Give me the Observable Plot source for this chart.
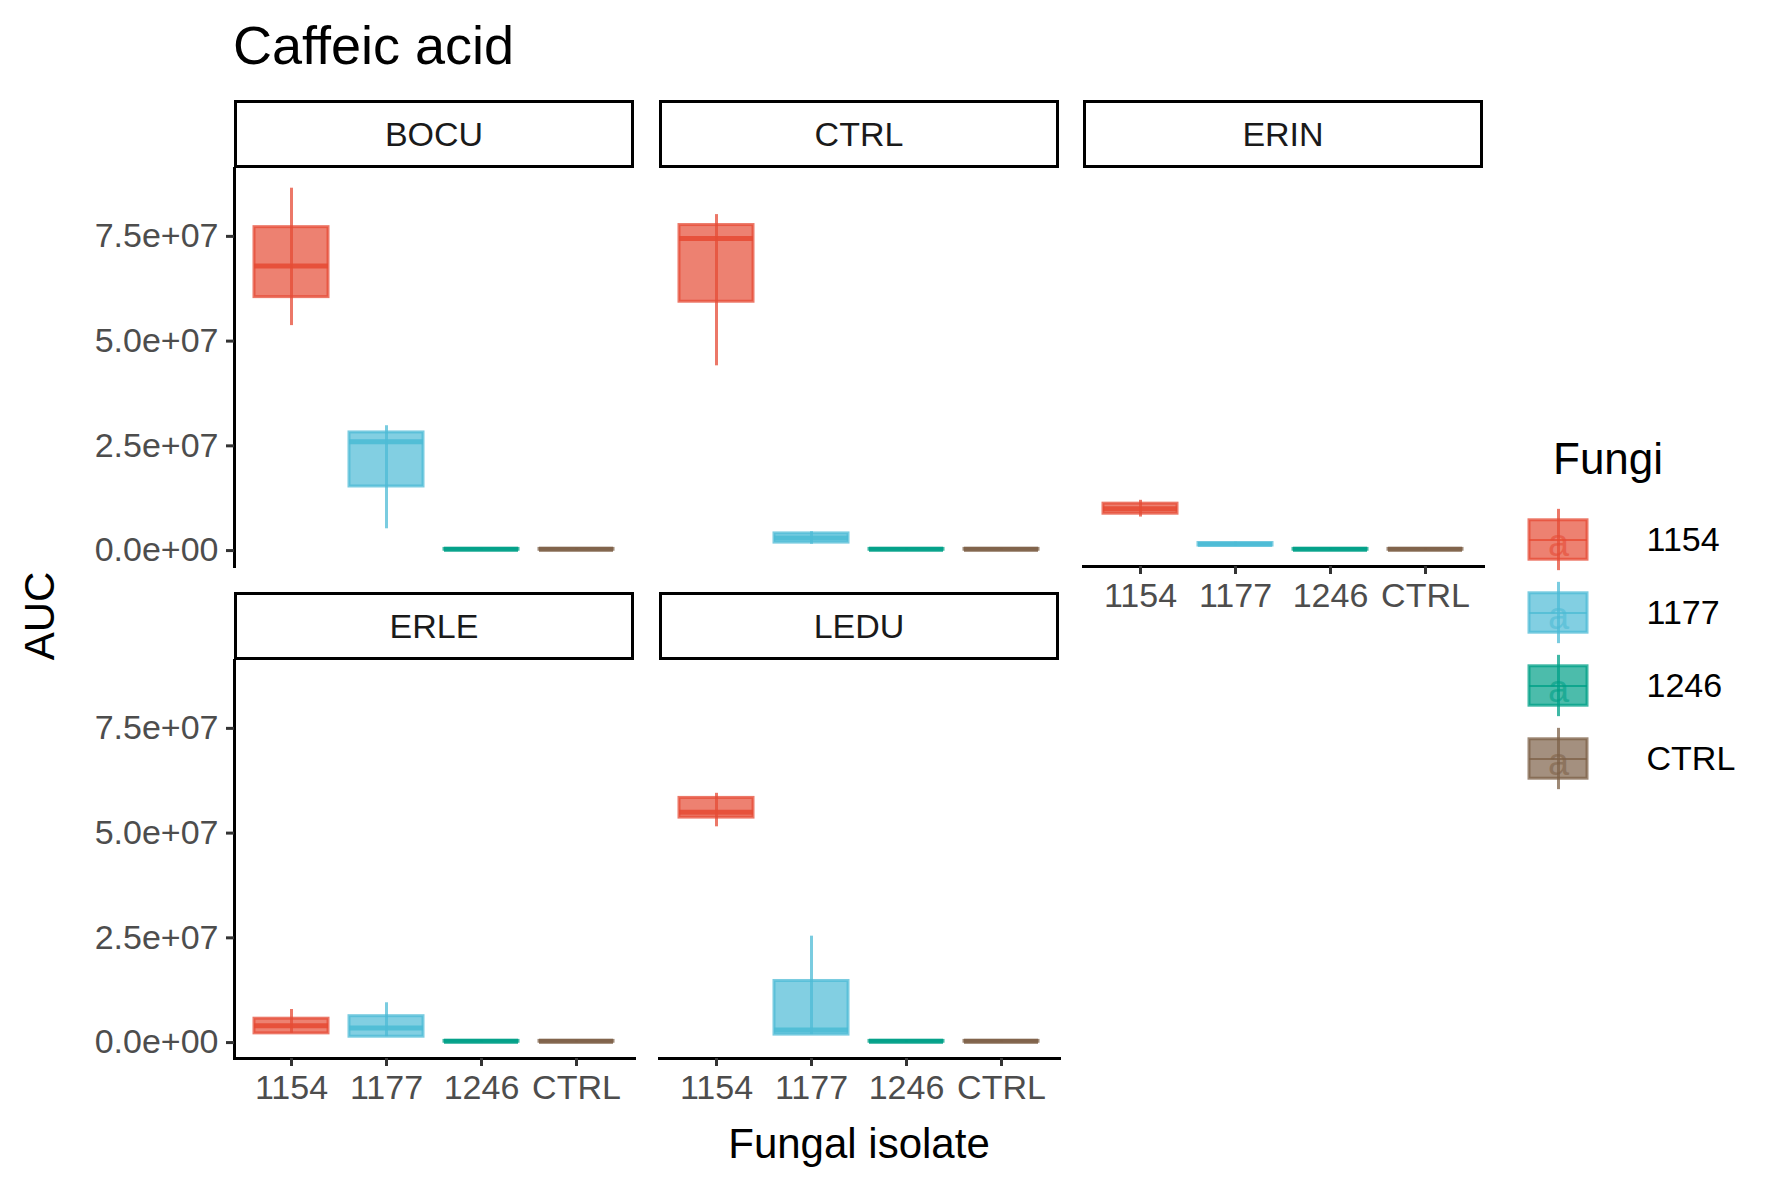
<!DOCTYPE html>
<html><head><meta charset="utf-8">
<script src="https://cdn.jsdelivr.net/npm/d3@7"></script>
<script src="https://cdn.jsdelivr.net/npm/@observablehq/plot@0.6"></script>
<style>
body{margin:0;background:#fff;font-family:"Liberation Sans",Arial,sans-serif;}
#root{position:relative;width:1771px;height:1181px;}
.abs{position:absolute;}
.strip{position:absolute;border:3px solid #000;box-sizing:border-box;display:flex;align-items:center;justify-content:center;font-size:34px;color:#1a1a1a;}
</style></head><body><div id="root"></div>
<script>
// data
const isolates = ["1154", "1177", "1246", "CTRL"];
const panels = ["BOCU", "CTRL", "ERIN", "ERLE", "LEDU"];
const colors = ["#E64B35", "#4DBBD5", "#00A087", "#7E6148"];
// per panel, per isolate: [lo, q1, median, q3, hi]
const stats = {
  BOCU: [[5.37e7, 6.05e7, 6.79e7, 7.72e7, 8.65e7], [0.52e7, 1.53e7, 2.6e7, 2.82e7, 2.98e7], [1e5, 2e5, 3e5, 4e5, 5e5], [1e5, 2e5, 3e5, 4e5, 5e5]],
  CTRL: [[4.41e7, 5.94e7, 7.45e7, 7.77e7, 8.02e7], [0.15e7, 0.19e7, 0.3e7, 0.41e7, 0.45e7], [1e5, 2e5, 3e5, 4e5, 5e5], [1e5, 2e5, 3e5, 4e5, 5e5]],
  ERIN: [[0.8e7, 0.88e7, 1.0e7, 1.12e7, 1.2e7], [0.1e7, 0.12e7, 0.15e7, 0.18e7, 0.2e7], [1e5, 2e5, 3e5, 4e5, 5e5], [1e5, 2e5, 3e5, 4e5, 5e5]],
  ERLE: [[0.22e7, 0.22e7, 0.4e7, 0.57e7, 0.79e7], [0.14e7, 0.14e7, 0.35e7, 0.63e7, 0.95e7], [1e5, 2e5, 3e5, 4e5, 5e5], [1e5, 2e5, 3e5, 4e5, 5e5]],
  LEDU: [[5.15e7, 5.37e7, 5.5e7, 5.84e7, 5.95e7], [0.19e7, 0.19e7, 0.3e7, 1.47e7, 2.54e7], [1e5, 2e5, 3e5, 4e5, 5e5], [1e5, 2e5, 3e5, 4e5, 5e5]]
};
const yTicks = [0, 2.5e7, 5e7, 7.5e7];

const fmt = d => d3.format(".1e")(d).replace(/e([+-])(\d)$/, "e$10$2");
const root = document.getElementById("root");
const font = "Liberation Sans, Arial, sans-serif";

function add(html, style) {
  const el = document.createElement("div");
  el.className = "abs";
  el.innerHTML = html;
  Object.assign(el.style, style);
  root.appendChild(el);
  return el;
}

// layout
const colX = [234, 659, 1083], panelW = 400;
const rowY = [168, 660], panelH = 398;
const stripH = 68;

panels.forEach((p, i) => {
  const col = i % 3, row = Math.floor(i / 3);
  const showY = col === 0;
  const showX = row === 1 || p === "ERIN";
  const rows = isolates.map((iso, k) => {
    const s = stats[p][k];
    return {iso, lo: s[0], q1: s[1], med: s[2], q3: s[3], hi: s[4]};
  });
  const ml = showY ? 200 : 0, mb = showX ? 70 : 0;
  const chart = Plot.plot({
    width: panelW + ml, height: panelH + mb,
    marginLeft: ml, marginRight: 0, marginTop: 0, marginBottom: mb,
    style: {fontFamily: font, fontSize: "34px", color: "#4d4d4d", background: "none", overflow: "visible"},
    x: {domain: isolates, paddingInner: 0.22, paddingOuter: 0.21, axis: null},
    y: {domain: [-0.38e7, 9.12e7], axis: null},
    color: {domain: isolates, range: colors},
    marks: [
      Plot.ruleX(rows, {x: "iso", y1: "lo", y2: "hi", stroke: "iso", strokeWidth: 3, strokeOpacity: 0.75}),
      Plot.barY(rows, {x: "iso", y1: "q1", y2: "q3", fill: "iso", fillOpacity: 0.7, stroke: "iso", strokeWidth: 3, strokeOpacity: 0.75}),
      Plot.tickY(rows, {x: "iso", y: "med", stroke: "iso", strokeWidth: 5, strokeOpacity: 0.9}),
      showY ? Plot.frame({anchor: "left", stroke: "#000", strokeWidth: 3}) : null,
      showY ? Plot.axisY(yTicks, {tickFormat: fmt, tickSize: 8, tickPadding: 8, fontSize: 34, fill: "#4d4d4d", stroke: "#333", strokeWidth: 3, label: null}) : null,
      showX ? Plot.frame({anchor: "bottom", stroke: "#000", strokeWidth: 3}) : null,
      showX ? Plot.axisX({tickSize: 8, tickPadding: 8, fontSize: 34, fill: "#4d4d4d", stroke: "#333", strokeWidth: 3, label: null}) : null
    ]
  });
  const wrap = add("", {left: (colX[col] - ml) + "px", top: rowY[row] + "px"});
  wrap.appendChild(chart);
  const st = document.createElement("div");
  st.className = "strip";
  st.textContent = p;
  Object.assign(st.style, {left: colX[col] + "px", top: (rowY[row] - stripH) + "px", width: panelW + "px", height: stripH + "px"});
  root.appendChild(st);
});

add("Caffeic acid", {left: "233px", top: "14px", fontSize: "54px", color: "#000"});
add("Fungal isolate", {left: "609px", width: "500px", textAlign: "center", top: "1120px", fontSize: "42px", color: "#000"});
add("AUC", {left: "-4px", top: "592px", fontSize: "42px", color: "#000", transform: "rotate(-90deg)"});

// legend
add("Fungi", {left: "1553px", top: "434px", fontSize: "44px", color: "#000"});
const leg = Plot.plot({
  width: 200, height: 300, marginLeft: 0, marginRight: 0, marginTop: 0, marginBottom: 0,
  style: {fontFamily: font, background: "none", overflow: "visible"},
  x: {domain: [0, 200], axis: null},
  y: {domain: [-0.5, 3.5], range: [0, 292], axis: null},
  color: {domain: isolates, range: colors},
  marks: [
    Plot.ruleX(isolates, {x: 33, y1: d => isolates.indexOf(d) - 0.42, y2: d => isolates.indexOf(d) + 0.42, stroke: d => d, strokeWidth: 3, strokeOpacity: 0.75}),
    Plot.rect(isolates, {x1: 4, x2: 62, y1: d => isolates.indexOf(d) - 0.27, y2: d => isolates.indexOf(d) + 0.27, fill: d => d, fillOpacity: 0.7, stroke: d => d, strokeWidth: 3, strokeOpacity: 0.75}),
    Plot.ruleY(isolates, {y: d => isolates.indexOf(d), x1: 4, x2: 62, stroke: d => d, strokeWidth: 2, strokeOpacity: 0.8}),
    Plot.text(isolates, {x: 33, y: d => isolates.indexOf(d), dy: 4, text: () => "a", fill: d => d, fontSize: 38, fillOpacity: 0.6}),
    Plot.text(isolates, {x: 121, y: d => isolates.indexOf(d), text: d => d, textAnchor: "start", fontSize: 34, fill: "#000"})
  ]
});
add("", {left: "1525px", top: "503px"}).appendChild(leg);
</script></body></html>
